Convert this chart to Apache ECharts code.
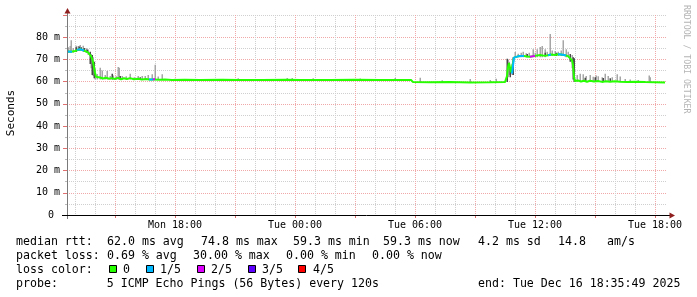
<!DOCTYPE html>
<html><head><meta charset="utf-8">
<script src="https://cdn.jsdelivr.net/npm/echarts@6/dist/echarts.min.js"></script>
<style>html,body{margin:0;padding:0;background:#fff}#c{width:697px;height:297px}</style>
</head><body><div id="c"></div>
<script>
// ---- data (hours since Mon 00:00, values in ms) ----
const medianHours = [12.60,12.70,12.80,12.85,13.00,13.10,13.25,13.35,13.45,13.55,13.65,13.75,13.80,13.85,13.90,13.95,14.00,14.05,14.15,14.25,14.40,14.55,14.70,14.85,15.00,15.15,15.30,15.45,15.60,15.75,15.95,16.15,16.35,16.55,16.70,16.80,16.90,17.00,17.25,17.50,17.85,18.50,19.25,20.35,21.25,22.35,23.60,24.25,25.75,27.00,28.25,29.25,29.80,29.90,30.75,31.75,32.75,33.75,34.50,34.55,34.60,34.65,34.70,34.75,34.80,34.85,34.90,34.95,35.00,35.15,35.30,35.45,35.60,35.75,35.85,36.00,36.25,36.50,36.65,36.80,37.00,37.15,37.30,37.45,37.55,37.65,37.75,37.85,37.90,37.95,38.00,38.15,38.30,38.45,38.60,38.75,38.95,39.15,39.35,39.55,39.75,40.00,40.25,40.60,41.00,41.50,42.00,42.50];
const medianMs = [73.6,73.4,73.5,73.5,73.8,74.3,74.6,74.2,74.0,73.6,73.2,72.6,71.5,70.4,68.8,66.4,64.0,62.2,61.6,61.9,61.4,61.8,61.3,61.6,61.2,61.7,61.1,61.5,61.2,61.6,61.1,61.3,61.0,61.2,61.0,61.1,61.0,61.2,60.9,61.0,60.8,60.9,60.7,60.9,60.8,60.7,60.9,60.8,60.8,60.9,60.8,60.8,60.8,59.8,59.7,59.8,59.6,59.7,59.8,60.1,62.5,66.5,68.4,68.0,64.2,63.6,63.8,70.8,71.3,71.4,71.6,71.5,71.3,71.2,71.4,71.6,72.0,71.6,71.9,72.2,72.0,72.3,72.2,72.0,71.8,71.5,70.8,69.6,67.5,62.0,60.3,60.5,60.1,60.4,60.0,60.4,60.1,60.3,59.9,60.2,60.0,60.2,60.0,59.9,60.0,59.8,59.7,59.6];
const medianLoss = [1,1,1,0,0,1,1,1,0,0,0,0,0,0,0,0,0,0,0,0,0,0,0,0,0,0,0,0,0,0,0,0,0,0,1,1,2,0,0,0,0,0,0,0,0,0,0,0,0,0,0,0,0,0,0,0,0,0,0,0,0,0,0,0,0,1,1,0,1,1,1,0,0,2,2,0,0,0,1,0,0,1,1,1,0,0,0,0,0,0,0,0,0,0,0,0,0,0,0,0,0,0,0,0,0,0,0,0];

const smokeHours = [12.65,12.75,12.80,12.90,13.05,13.15,13.25,13.40,13.55,13.65,13.80,13.90,14.00,14.10,14.25,14.35,14.50,14.60,14.75,14.90,15.05,15.15,15.20,15.35,15.55,15.75,15.95,16.15,16.35,16.50,16.65,16.85,17.00,17.15,17.35,18.00,21.15,23.60,23.85,24.90,27.25,29.00,30.25,31.35,32.75,33.75,34.05,34.65,34.70,34.85,35.00,35.15,35.30,35.40,35.55,35.70,35.90,36.00,36.10,36.25,36.35,36.50,36.60,36.75,36.85,37.00,37.15,37.30,37.40,37.55,37.65,37.85,38.10,38.25,38.40,38.55,38.75,38.90,39.05,39.15,39.35,39.50,39.65,39.85,40.10,40.25,40.50,40.75,41.15,41.70,41.75];
const smokeLow = [73.0,73.0,73.0,73.0,73.5,74.0,74.0,73.5,73.0,72.0,66.0,62.5,61.0,61.0,61.0,61.0,61.0,61.0,61.0,61.0,61.0,61.0,61.0,61.0,61.0,61.0,61.0,61.0,60.8,60.8,60.8,60.8,60.8,60.8,60.8,60.6,60.6,60.6,60.6,60.6,60.6,60.6,59.5,59.5,59.5,59.5,59.5,62.0,63.0,63.0,71.0,71.0,71.0,71.0,71.0,71.0,71.0,71.0,71.0,71.0,71.0,71.0,71.5,71.5,71.5,71.5,71.5,71.5,71.5,71.0,71.0,66.0,60.0,60.0,60.0,60.0,60.0,60.0,60.0,60.0,60.0,60.0,60.0,60.0,60.0,60.0,59.8,59.8,59.8,59.8,59.8];
const smokeHigh = [75.5,76.0,78.6,75.2,76.2,76.0,76.5,76.2,75.0,74.5,72.5,71.0,66.0,63.5,66.3,65.0,63.0,64.8,62.5,62.8,62.4,66.6,66.3,62.5,62.4,63.6,62.0,62.5,62.6,62.6,63.0,63.3,67.6,62.3,63.3,61.3,61.5,61.6,61.6,61.5,61.4,61.6,61.8,60.6,61.2,60.8,61.3,70.0,69.0,68.0,73.4,72.6,73.0,73.5,72.8,73.0,74.6,73.0,74.6,75.6,76.0,74.6,73.5,81.4,74.0,73.8,73.5,74.0,78.6,74.6,73.5,72.0,63.0,63.6,63.3,62.5,63.0,62.2,62.8,62.4,62.0,63.6,62.5,62.0,63.3,62.3,61.2,61.0,60.8,62.8,62.0];

const darkHours = [13.05,13.20,13.30,13.45,13.60,13.75,13.85,13.95,14.85,15.25,16.25,34.60,34.75,34.90,35.60,36.50,37.05,37.75,37.90,37.95,38.50,39.00,39.40,39.75];
const darkLow  = [73.5,74.0,74.0,73.5,73.0,68.0,63.0,61.5,61.0,61.0,61.0,59.8,62.0,63.0,71.0,71.5,71.5,69.0,61.0,60.0,60.0,60.0,60.0,60.0];
const darkHigh = [75.5,75.8,75.5,75.2,74.5,73.5,72.0,69.0,63.6,62.5,62.0,70.3,66.0,71.0,72.5,73.0,73.0,72.5,71.0,70.5,61.8,62.0,61.7,61.5];

const minorHourTicks = [13,14,16,17,19,20,22,23,25,26,28,29,31,32,34,35,37,38,40,41];
const majorHourTicks = [15,18,21,24,27,30,33,36,39,42];
const labelHours = [18,24,30,36,42];
const labelTexts = ['Mon 18:00','Tue 00:00','Tue 06:00','Tue 12:00','Tue 18:00'];

const lossLabels = ['0','1/5','2/5','3/5','4/5'];
const lossColors = ['#26ff00','#00b8ff','#dd00ff','#5e00ff','#ff0000'];

// justified legend lines (tokens)
const statTokens1 = ['median rtt:','62.0 ms avg','74.8 ms max','59.3 ms min','59.3 ms now','4.2 ms sd','14.8','am/s'];
const statTokens2 = ['packet loss:','0.69 % avg','30.00 % max','0.00 % min','0.00 % now'];
const statLine3 = 'loss color:';
const statLine4 = 'probe:       5 ICMP Echo Pings (56 Bytes) every 120s';
const endText = 'end: Tue Dec 16 18:35:49 2025';
const yName = 'Seconds';
const watermark = 'RRDTOOL / TOBI OETIKER';

// ---- build ----
const MONO = 'DejaVu Sans Mono';
const FONT = '11.6px "' + MONO + '"';
const chart = echarts.init(document.getElementById('c'), null, {renderer:'canvas'});

const medianData = medianHours.map((t,i)=>[t, medianMs[i]]);
const lossSeries = [];
for (let k = 1; k < lossColors.length; k++) {
  const d = medianHours.map((t,i)=> (medianLoss[i]===k || (i>0 && medianLoss[i-1]===k)) ? [t, medianMs[i]] : [t, null]);
  lossSeries.push({type:'line', data:d, xAxisIndex:0, symbol:'none', connectNulls:false, animation:false,
    lineStyle:{color:lossColors[k], width:2}, z:5});
}

function smokeSeries(hours, lo, hi, color, z) {
  return {
    type:'custom', xAxisIndex:0, z:z, animation:false,
    data: hours.map((t,i)=>[t, lo[i], hi[i]]),
    renderItem: function(params, api){
      const p1 = api.coord([api.value(0), api.value(2)]);
      const p0 = api.coord([api.value(0), api.value(1)]);
      const w = Math.max(1, api.size([0.05, 0])[0]);
      return {type:'rect', shape:{x: Math.round(p1[0]) - w/2, y:p1[1], width:w+0.5, height: p0[1]-p1[1]}, style:{fill:color}};
    }
  };
}

const ySplitColors = [];
for (let v = 0; v <= 90; v += 10) ySplitColors.push(v === 90 ? '#d0d0d0' : '#f0a8a8');

const graphics = [
  {type:'line', shape:{x1:67.5, y1:219, x2:67.5, y2:12}, style:{stroke:'#7a7a7a', lineWidth:1}, z:20},
  {type:'polygon', shape:{points:[[64.5,13.5],[70.5,13.5],[67.5,8]]}, style:{fill:'#8f1f1f'}, z:21},
  {type:'line', shape:{x1:62, y1:215.5, x2:671, y2:215.5}, style:{stroke:'#000', lineWidth:1}, z:20},
  {type:'polygon', shape:{points:[[669.5,212.5],[669.5,218.5],[675,215.5]]}, style:{fill:'#8f1f1f'}, z:21},
  {type:'text', x:11, y:113, rotation:Math.PI/2, style:{text:yName, font:'11px "'+MONO+'"', fill:'#000', align:'center', verticalAlign:'middle'}},
  {type:'text', x:686.5, y:5, rotation:-Math.PI/2, style:{text:watermark, font:'8.2px "'+MONO+'"', fill:'#b4b4b4', align:'left', verticalAlign:'middle'}},
  {type:'text', x:16, y:269.5, style:{text:statLine3, font:FONT, fill:'#000', verticalAlign:'middle'}},
  {type:'text', x:16, y:283.5, style:{text:statLine4, font:FONT, fill:'#000', verticalAlign:'middle'}},
  {type:'text', x:478, y:283.5, style:{text:endText, font:FONT, fill:'#000', verticalAlign:'middle'}}
];
const tokX1 = [16, 107, 201, 293, 383, 478, 558, 607];
const tokX2 = [16, 107, 193, 286, 372];
statTokens1.forEach((s,i)=>graphics.push({type:'text', x:tokX1[i], y:241.5, style:{text:s, font:FONT, fill:'#000', verticalAlign:'middle'}}));
statTokens2.forEach((s,i)=>graphics.push({type:'text', x:tokX2[i], y:255.5, style:{text:s, font:FONT, fill:'#000', verticalAlign:'middle'}}));
const sqX = [109.5, 146.5, 197.5, 248.5, 298.5];
const lblX = [123, 160, 211, 262, 313];
lossLabels.forEach((l,i)=>{
  graphics.push({type:'rect', shape:{x:sqX[i], y:265.5, width:7, height:7}, style:{fill:lossColors[i], stroke:'#000', lineWidth:1}});
  graphics.push({type:'text', x:lblX[i], y:269.5, style:{text:l, font:FONT, fill:'#000', verticalAlign:'middle'}});
});

chart.setOption({
  animation:false,
  backgroundColor:'#fff',
  grid:{left:67, top:15, width:600, height:200, containLabel:false},
  xAxis:[
    {type:'value', min:12.6, max:42.6, axisLine:{show:false},
     axisTick:{show:true, customValues:majorHourTicks, length:3, lineStyle:{color:'#e07070'}},
     axisLabel:{customValues:labelHours, formatter:(v)=>labelTexts[labelHours.indexOf(Math.round(v))] || '', fontFamily:MONO, fontSize:10, color:'#000', margin:5},
     splitLine:{show:true, lineStyle:{color:'#f0a8a8', type:[1,1], width:1}}},
    {type:'value', min:12.6, max:42.6, axisLine:{show:false}, axisLabel:{show:false},
     axisTick:{show:false, customValues:minorHourTicks},
     splitLine:{show:true, lineStyle:{color:'#cfcfcf', type:[1,1], width:1}}}
  ],
  yAxis:{type:'value', min:0, max:90, interval:10,
    axisLine:{show:false},
    axisTick:{show:true, length:4, lineStyle:{color:'#e07070'}},
    axisLabel:{formatter:(v)=> v===0 ? '0 ' : (v>=90 ? '' : v+' m'), fontFamily:MONO, fontSize:10, color:'#000', margin:7},
    splitLine:{show:true, lineStyle:{color:ySplitColors, type:[1,1], width:1}},
    minorTick:{show:true, splitNumber:2, length:2, lineStyle:{color:'#bbb'}},
    minorSplitLine:{show:true, lineStyle:{color:'#cfcfcf', type:[1,1], width:1}}
  },
  series:[
    smokeSeries(smokeHours, smokeLow, smokeHigh, '#a6a6a6', 2),
    smokeSeries(darkHours, darkLow, darkHigh, '#4a4a4a', 3),
    {type:'line', data:medianData, xAxisIndex:0, symbol:'none', animation:false, lineStyle:{color:lossColors[0], width:2}, z:4}
  ].concat(lossSeries),
  graphic:graphics
});
</script></body></html>
